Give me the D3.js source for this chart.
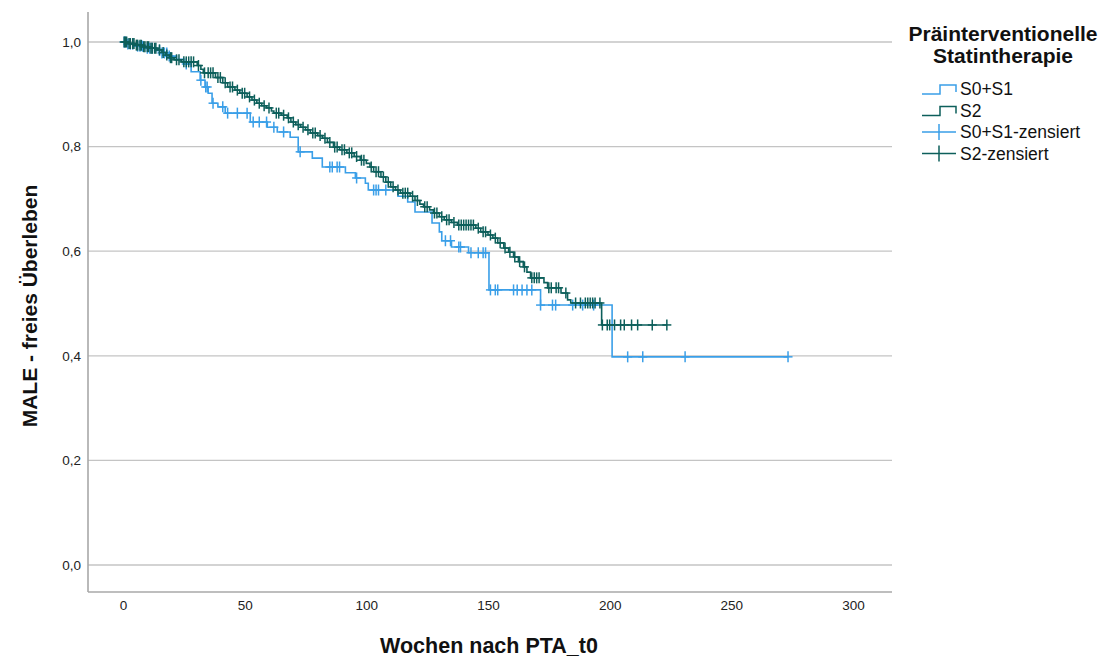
<!DOCTYPE html>
<html>
<head>
<meta charset="utf-8">
<script src="https://cdn.jsdelivr.net/npm/d3@7"></script>
<style>
  body { margin: 0; background: #fff; }
  text { font-family: "Liberation Sans", Arial, sans-serif; }
</style>
</head>
<body>
<svg id="chart" width="1109" height="659"></svg>
<script>
// Kaplan-Meier steps: [Woche, Überleben nach dem Ereignis]
const s01Steps = [[2,0.996],[5,0.992],[9,0.988],[13,0.984],[16,0.979],[19,0.973],[22,0.967],[25,0.958],
  [28,0.943],[31.7,0.927],[33.7,0.914],[35,0.902],[36.6,0.883],[39,0.876],[42,0.864],[52.3,0.847],
  [59.3,0.837],[63.4,0.828],[68.7,0.818],[72,0.79],[77.8,0.778],[81.9,0.761],[91.4,0.75],[95.5,0.74],
  [99.6,0.73],[100.8,0.717],[113,0.705],[117,0.694],[120,0.675],[127,0.654],[130,0.637],[131,0.62],
  [135,0.608],[142,0.597],[150.4,0.526],[171.6,0.497],[201,0.398]];
const s01End = 273.3;
const s01Censored = [0.5,1,2,3,4,6,7,8,10,11,12,15,16,17,18,19,26,32,34,34.6,37,41,43,47,51,53.5,56,59,
  62,66,72.8,85,86,88,89,96,103,104,105,108,132.5,134.6,138,138.7,143,146,148,149,151,153,154,160.5,
  162,164,166,168,171.6,176.5,177.8,184.8,188.9,193.4,207.4,213.6,231,273.3];

const s2Steps = [[2,0.997],[5,0.994],[8,0.991],[11,0.988],[14,0.985],[16,0.98],[17.5,0.975],[19,0.97],
  [21,0.966],[24,0.962],[30.5,0.955],[32,0.948],[33,0.941],[38,0.932],[41,0.922],[43,0.914],[46,0.908],
  [48,0.902],[51,0.895],[53,0.889],[55,0.883],[57,0.878],[59,0.874],[61,0.868],[62,0.864],[65,0.86],
  [67.5,0.855],[69,0.847],[71,0.842],[73,0.837],[75,0.832],[77,0.826],[80,0.821],[82,0.816],[84,0.808],
  [86.5,0.799],[89,0.794],[92,0.788],[95,0.781],[97.5,0.774],[100,0.768],[101.5,0.761],[103,0.752],
  [106,0.742],[108,0.732],[110,0.723],[112,0.717],[114,0.711],[118,0.705],[120,0.697],[122,0.69],
  [123.5,0.685],[126,0.679],[127.6,0.673],[130,0.666],[132,0.66],[135,0.655],[137.5,0.65],[145,0.644],
  [147,0.637],[150,0.631],[152,0.625],[154,0.616],[156.5,0.606],[158.5,0.598],[160.5,0.589],[162.5,0.58],
  [164.5,0.57],[166,0.56],[167.5,0.549],[173,0.54],[174.5,0.53],[180,0.52],[182.7,0.507],[184,0.501],
  [196.7,0.459]];
const s2End = 223.5;
const s2Censored = [0.5,1,1.5,2.5,3,4,4.5,5.5,6,7,7.5,8.5,9,10,10.5,11.5,12,13,13.5,15,16.5,18,19.5,20,
  22,23,25,26,27,28,29,31,33.5,35,36,37,39,40,42,44,45,47,49,50,52,54,56,58,60,63,64,66,68,70,72,74,76,
  78,79,81,83,85,87,88,90,91,93,94,96,98,99,102,104,105,107,109,111,113,115,116,117,119,121,124,125,128,
  129,131,133,134,136,138,139,140,141,142,143,144,146,148,149,151,153,155,157,159,161,163,165,168,169,
  170,171,175,176,178,179,182,186,188,190,191,192,193,194,196,197,199,200,202,204.5,206,209,211.5,
  217.5,223.5];

const xTicks = [0, 50, 100, 150, 200, 250, 300];
const yTicks = [0, 0.2, 0.4, 0.6, 0.8, 1.0];

const groups = [
  { name: "S0+S1", color: "#3a9fe8", steps: s01Steps, end: s01End, censored: s01Censored },
  { name: "S2", color: "#0d5f5b", steps: s2Steps, end: s2End, censored: s2Censored }
];

const svg = d3.select("#chart");
const plotLeft = 88, plotRight = 892, plotTop = 12, plotBottom = 592;

const x = d3.scaleLinear().domain([0, 300]).range([123, 853]);
const y = d3.scaleLinear().domain([0, 1]).range([565, 42]);

// gridlines
svg.append("g").selectAll("line")
  .data(yTicks)
  .enter().append("line")
  .attr("x1", plotLeft).attr("x2", plotRight)
  .attr("y1", d => y(d)).attr("y2", d => y(d))
  .attr("stroke", "#c4c4c4").attr("stroke-width", 1.3);

// axis lines
svg.append("line").attr("x1", plotLeft).attr("x2", plotLeft).attr("y1", plotTop).attr("y2", plotBottom)
  .attr("stroke", "#a8a8a8").attr("stroke-width", 1.6);
svg.append("line").attr("x1", plotLeft).attr("x2", plotRight).attr("y1", plotBottom).attr("y2", plotBottom)
  .attr("stroke", "#a8a8a8").attr("stroke-width", 1.6);

// tick labels
const comma = d => d3.format(".1f")(d).replace(".", ",");
const yAxis = svg.append("g")
  .attr("transform", `translate(${plotLeft - 7},0)`)
  .call(d3.axisLeft(y).tickValues(yTicks).tickFormat(comma).tickSize(0).tickPadding(0));
yAxis.select(".domain").remove();
yAxis.selectAll("text").attr("font-size", 13.5).attr("fill", "#222")
  .style("font-family", "'Liberation Sans', Arial, sans-serif");

const xAxis = svg.append("g")
  .attr("transform", `translate(0,${plotBottom + 8})`)
  .call(d3.axisBottom(x).tickValues(xTicks).tickSize(0).tickPadding(0));
xAxis.select(".domain").remove();
xAxis.selectAll("text").attr("font-size", 13.5).attr("fill", "#222")
  .style("font-family", "'Liberation Sans', Arial, sans-serif");

// axis titles
svg.append("text")
  .attr("x", 489).attr("y", 653)
  .attr("text-anchor", "middle")
  .attr("font-size", 21.5).attr("font-weight", "bold").attr("fill", "#111")
  .text("Wochen nach PTA_t0");

svg.append("text")
  .attr("transform", "translate(37,306) rotate(-90)")
  .attr("text-anchor", "middle")
  .attr("font-size", 21).attr("font-weight", "bold").attr("fill", "#111")
  .text("MALE - freies Überleben");

// survival at time t
const survAt = (steps, t) => {
  let s = 1;
  steps.forEach(st => { if (st[0] <= t) s = st[1]; });
  return s;
};

const line = d3.line()
  .x(d => x(d[0]))
  .y(d => y(d[1]))
  .curve(d3.curveStepAfter);

groups.forEach(g => {
  const pts = [[0, 1]].concat(g.steps);
  pts.push([g.end, g.steps[g.steps.length - 1][1]]);

  svg.append("path")
    .datum(pts)
    .attr("d", line)
    .attr("fill", "none")
    .attr("stroke", g.color)
    .attr("stroke-width", 1.6);

  const marks = svg.append("g").selectAll("g")
    .data(g.censored)
    .enter().append("g")
    .attr("transform", d => `translate(${x(d)},${y(survAt(g.steps, d))})`);
  marks.append("line")
    .attr("x1", 0).attr("x2", 0).attr("y1", -5.5).attr("y2", 5.5)
    .attr("stroke", g.color).attr("stroke-width", 1.5);
  marks.append("line")
    .attr("x1", -4.5).attr("x2", 4.5).attr("y1", 0).attr("y2", 0)
    .attr("stroke", g.color).attr("stroke-width", 1.5);
});

// legend
const legend = svg.append("g");
legend.append("text")
  .attr("x", 1003).attr("y", 41)
  .attr("text-anchor", "middle").attr("font-size", 21).attr("font-weight", "bold").attr("fill", "#111")
  .text("Präinterventionelle");
legend.append("text")
  .attr("x", 1003).attr("y", 63)
  .attr("text-anchor", "middle").attr("font-size", 21).attr("font-weight", "bold").attr("fill", "#111")
  .text("Statintherapie");

const legendItems = [
  { label: "S0+S1", color: groups[0].color, type: "step" },
  { label: "S2", color: groups[1].color, type: "step" },
  { label: "S0+S1-zensiert", color: groups[0].color, type: "cens" },
  { label: "S2-zensiert", color: groups[1].color, type: "cens" }
];

const item = legend.selectAll(".item")
  .data(legendItems)
  .enter().append("g")
  .attr("class", "item")
  .attr("transform", (d, i) => `translate(922,${89 + i * 21.5})`);

item.filter(d => d.type === "step").append("path")
  .attr("d", "M0,5H18V-4H34V3")
  .attr("fill", "none")
  .attr("stroke", d => d.color).attr("stroke-width", 1.5);
item.filter(d => d.type === "cens").append("path")
  .attr("d", "M0,0H34M17,-8V8")
  .attr("fill", "none")
  .attr("stroke", d => d.color).attr("stroke-width", 1.5);

item.append("text")
  .attr("x", 38).attr("y", 6)
  .attr("font-size", 17.5).attr("fill", "#111")
  .text(d => d.label);
</script>
</body>
</html>
